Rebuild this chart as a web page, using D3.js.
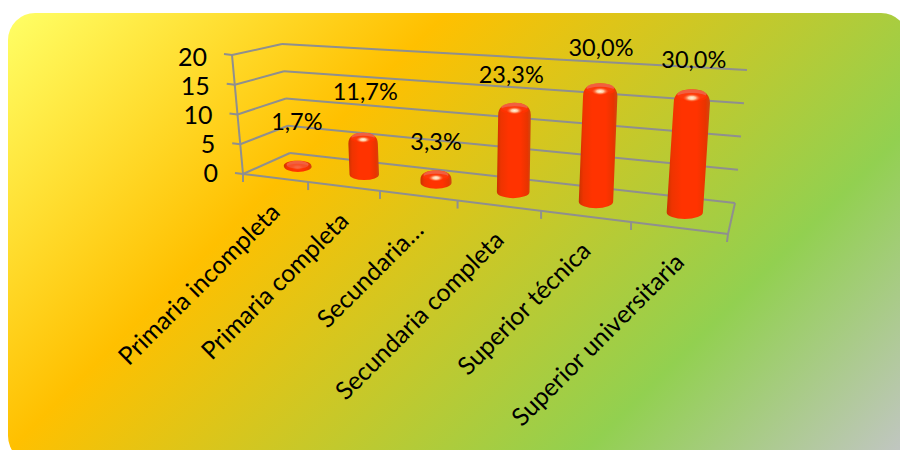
<!DOCTYPE html>
<html><head><meta charset="utf-8">
<script src="https://cdnjs.cloudflare.com/ajax/libs/d3/7.8.5/d3.min.js"></script>
<style>html,body{margin:0;padding:0;background:#fff}svg{display:block}text{font-family:Lato,"Open Sans",sans-serif;fill:#000}</style>
</head><body><svg id="c" width="900" height="450"></svg>
<script>
const categories = ["Primaria incompleta","Primaria completa","Secundaria…","Secundaria completa","Superior técnica","Superior universitaria"];
const counts = [1,7,2,14,18,18];
const percentLabels = ["1,7%","11,7%","3,3%","23,3%","30,0%","30,0%"];
const yTicks = [0,5,10,15,20];
const labelLift = [38,40,28,27,34,28];
const labelShift = [-1,1,0,-2,5,9];

const svg = d3.select("#c"), defs = svg.append("defs");
// frame corners of the 3D box
const floor = [[243,174],[728,234],[735,203],[290,153]];
const rise = {frontLeft:[-11,-119],frontRight:[15,-145],backLeft:[-8,-109],backRight:[12,-133]};
function homography(q){
  const [[x0,y0],[x1,y1],[x2,y2],[x3,y3]] = q;
  const dx1=x1-x2,dx2=x3-x2,dx3=x0-x1+x2-x3,dy1=y1-y2,dy2=y3-y2,dy3=y0-y1+y2-y3;
  const d=dx1*dy2-dx2*dy1,g=(dx3*dy2-dx2*dy3)/d,h=(dx1*dy3-dx3*dy1)/d;
  const a=x1-x0+g*x1,b=x3-x0+h*x3,e=y1-y0+g*y1,f=y3-y0+h*y3;
  return (u,v)=>{const w=g*u+h*v+1;return [(a*u+b*v+x0)/w,(e*u+f*v+y0)/w];};
}
const hFloor = homography(floor);
const yScale = d3.scaleLinear().domain([0,20]).range([0,1]);
const xBand = d3.scaleBand().domain(categories).range([0,1]);
const warp = d3.scalePow().exponent(1.03).domain([0,1]).range([0,1]);
const project = (u,v,val)=>{
  const a=hFloor(warp(u),v),t=yScale(val);
  const lx=floor[0][0]+(floor[3][0]-floor[0][0])*v, rx=floor[1][0]+(floor[2][0]-floor[1][0])*v;
  const s=(a[0]-lx)/(rx-lx);
  const L=[0,1].map(k=>rise.frontLeft[k]+(rise.backLeft[k]-rise.frontLeft[k])*v);
  const R=[0,1].map(k=>rise.frontRight[k]+(rise.backRight[k]-rise.frontRight[k])*v);
  return [a[0]+(L[0]+(R[0]-L[0])*s)*t,a[1]+(L[1]+(R[1]-L[1])*s)*t];
};

// background
const bg = defs.append("linearGradient").attr("id","bg").attr("gradientUnits","userSpaceOnUse")
  .attr("x1",8).attr("y1",13).attr("x2",672).attr("y2",677);
[[0,"#ffff66"],[.33,"#ffc000"],[.765,"#92d050"],[1,"#c0c6c0"]].forEach(s=>bg.append("stop").attr("offset",s[0]).attr("stop-color",s[1]));
svg.append("rect").attr("x",8).attr("y",13).attr("width",900).attr("height",450).attr("rx",27).attr("fill","url(#bg)");

// grid
const grid = svg.append("g").attr("stroke","#8f8f8f").attr("stroke-width",2).attr("fill","none");
const seg=(a,b)=>grid.append("line").attr("x1",a[0]).attr("y1",a[1]).attr("x2",b[0]).attr("y2",b[1]);
yTicks.forEach(t=>{
  const p0=project(0,0,t),p1=project(0,1,t),p2=project(1,1,t);
  seg(p0,p1); seg(p1,p2);
  seg([p0[0]-8,p0[1]-1],p0);
  svg.append("text").attr("x",p0[0]-25).attr("y",p0[1]+8+t*.13).attr("text-anchor","end")
    .attr("font-size",25).text(t);
});
seg(project(0,0,0),project(0,0,20));
seg(project(0,0,0),project(1,0,0));
seg(project(1,0,0),project(1,1,0));
const edges=[0].concat(categories.map((c,i)=>(i+1)/categories.length));
edges.forEach(u=>{const p=project(u,0,0);seg(p,[p[0]-(u===1?1:0),p[1]+8]);});

// gradients for the bars
const body=defs.append("linearGradient").attr("id","body");
[[0,"#c93200"],[.12,"#ee3400"],[.35,"#ff3300"],[.7,"#ff3300"],[.9,"#e83400"],[1,"#cc4a10"]].forEach(s=>body.append("stop").attr("offset",s[0]).attr("stop-color",s[1]));
const glare=defs.append("radialGradient").attr("id","glare");
[[0,"#fff6e0",1],[.4,"#ffd8b0",.9],[1,"#ff5a20",0]].forEach(s=>glare.append("stop").attr("offset",s[0]).attr("stop-color",s[1]).attr("stop-opacity",s[2]));

// bars
const barV=.5, barLean=.7;
const bars=svg.append("g");
categories.forEach((c,i)=>{
  const u=xBand(c)+xBand.bandwidth()/2, bw=xBand.bandwidth();
  const base=project(u,barV,0), top=project(u,barV,counts[i]);
  const l=project(u-bw*.2,barV,0), r=project(u+bw*.2,barV,0);
  const rx=Math.hypot(r[0]-l[0],r[1]-l[1])/2*.735+4.5, ry=rx*.38;
  const h=base[1]-top[1]+ry;
  const cap=Math.min(rx*.75,h*.5);
  const tx=base[0]+(top[0]-base[0])*barLean, ty=top[1];
  const d=`M${base[0]-rx},${base[1]} A${rx},${ry} 0 0 0 ${base[0]+rx},${base[1]}`+
    ` L${tx+rx},${ty+cap} C${tx+rx},${ty+cap*.25} ${tx+rx*.55},${ty} ${tx},${ty}`+
    ` C${tx-rx*.55},${ty} ${tx-rx},${ty+cap*.25} ${tx-rx},${ty+cap} Z`;
  bars.append("path").attr("d",d).attr("fill","url(#body)");
  bars.append("ellipse").attr("cx",tx).attr("cy",ty+ry*.75).attr("rx",rx*.8).attr("ry",ry*.75)
    .attr("fill","#ef6a50").attr("opacity",.8);
  bars.append("ellipse").attr("cx",tx).attr("cy",ty+ry*1.15).attr("rx",rx*.85).attr("ry",ry*.6)
    .attr("fill","#ff3300").attr("opacity",h>ry*3?.85:.35);
  bars.append("ellipse").attr("cx",tx).attr("cy",ty+ry*1.25).attr("rx",rx*.5).attr("ry",ry*.6)
    .attr("fill","url(#glare)").attr("opacity",h>ry*2.2?1:.15);
  svg.append("text").attr("x",base[0]+labelShift[i]).attr("y",ty-labelLift[i]+7)
    .attr("text-anchor","middle").attr("font-size",23.5).text(percentLabels[i]);
  const a=project(u,0,0);
  svg.append("text").attr("transform",`translate(${a[0]+7},${a[1]+36}) rotate(-45)`)
    .attr("text-anchor","end").attr("font-size",24.8).text(c);
});
</script></body></html>
